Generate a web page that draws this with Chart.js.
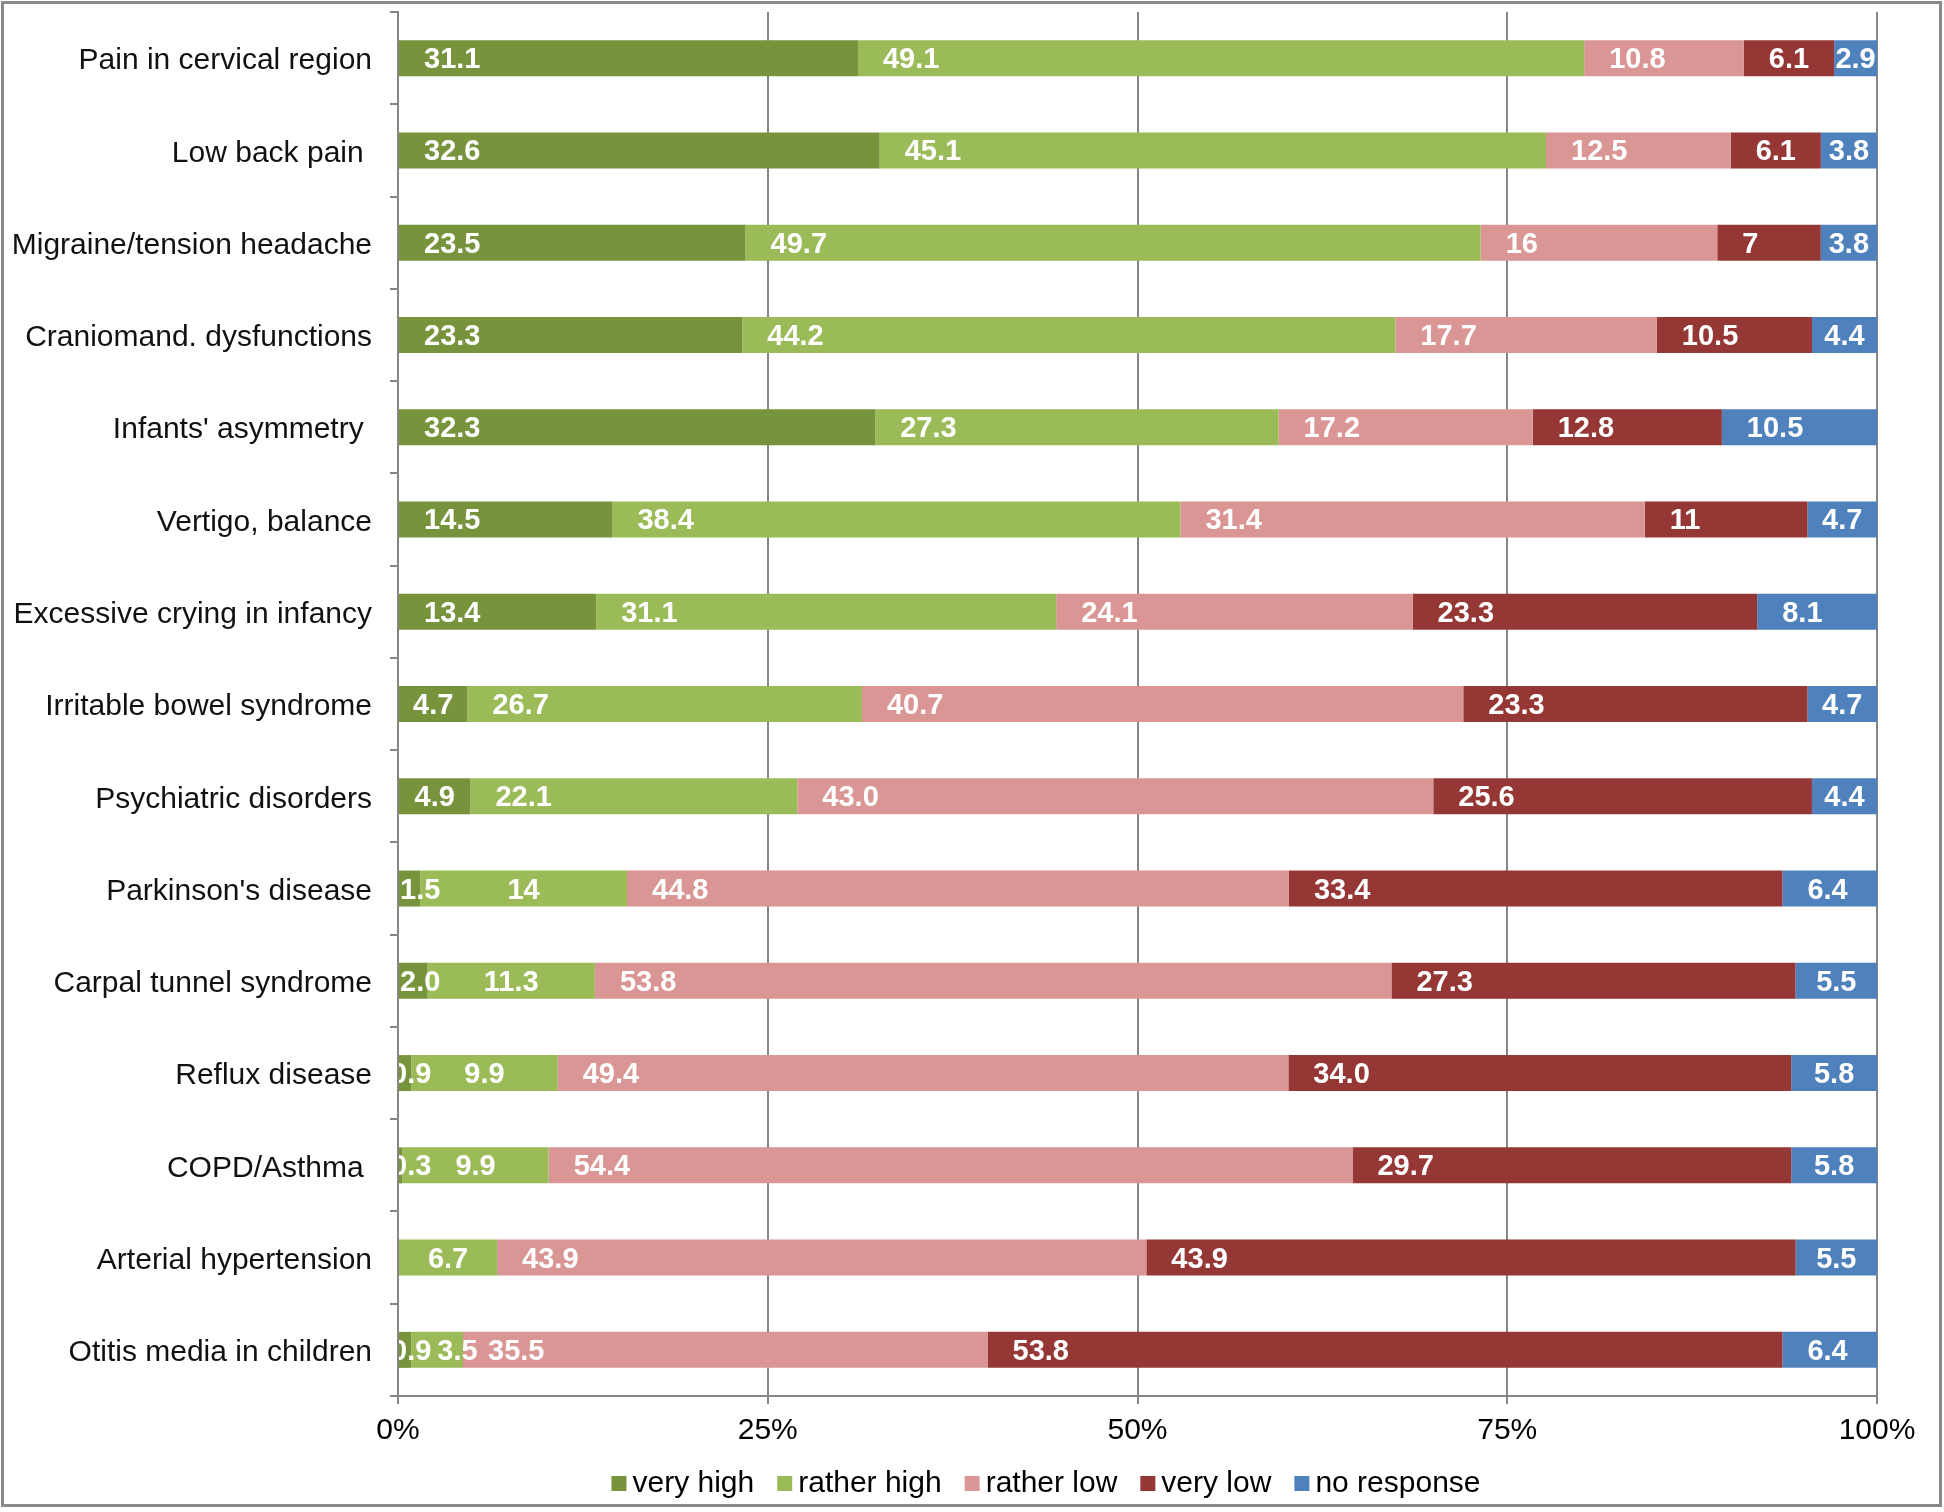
<!DOCTYPE html>
<html><head><meta charset="utf-8">
<script src="https://cdn.jsdelivr.net/npm/chart.js@4/dist/chart.umd.min.js"></script>
<style>html,body{margin:0;padding:0;background:#fff}#wrap{width:1944px;height:1512px;position:relative}</style>
</head><body><div id="wrap"><canvas id="c" width="1944" height="1512"></canvas></div>
<script>
const categories = ['Pain in cervical region','Low back pain ','Migraine/tension headache','Craniomand. dysfunctions',"Infants' asymmetry ",'Vertigo, balance','Excessive crying in infancy','Irritable bowel syndrome','Psychiatric disorders',"Parkinson's disease",'Carpal tunnel syndrome','Reflux disease','COPD/Asthma ','Arterial hypertension','Otitis media in children'];
const seriesNames = ['very high','rather high','rather low','very low','no response'];
const veryHigh   = ['31.1','32.6','23.5','23.3','32.3','14.5','13.4','4.7','4.9','1.5','2.0','0.9','0.3',null,'0.9'];
const ratherHigh = ['49.1','45.1','49.7','44.2','27.3','38.4','31.1','26.7','22.1','14','11.3','9.9','9.9','6.7','3.5'];
const ratherLow  = ['10.8','12.5','16','17.7','17.2','31.4','24.1','40.7','43.0','44.8','53.8','49.4','54.4','43.9','35.5'];
const veryLow    = ['6.1','6.1','7','10.5','12.8','11','23.3','23.3','25.6','33.4','27.3','34.0','29.7','43.9','53.8'];
const noResponse = ['2.9','3.8','3.8','4.4','10.5','4.7','8.1','4.7','4.4','6.4','5.5','5.8','5.8','5.5','6.4'];
const xTickLabels = ['0%','25%','50%','75%','100%'];

const seriesValues = [veryHigh, ratherHigh, ratherLow, veryLow, noResponse];
const colors = ['#77933C','#9BBB59','#D99694','#953735','#4F81BD'];
const FONT = '"Liberation Sans", Arial, Helvetica, sans-serif';

// 100% stacking: normalise each row to its total
const rowTotals = categories.map((_, i) => seriesValues.reduce((s, arr) => s + (arr[i] == null ? 0 : Number(arr[i])), 0));
const datasets = seriesValues.map((arr, d) => ({
  label: seriesNames[d],
  data: arr.map((v, i) => v == null ? null : Number(v) / rowTotals[i] * 100),
  labelsText: arr,
  backgroundColor: colors[d],
  borderWidth: 0,
  barPercentage: 0.39,
  categoryPercentage: 1.0,
  centerBelow: d === 1 ? 15 : 0
}));

const labelPlugin = {
  id: 'segLabels',
  afterDatasetsDraw(chart) {
    const ctx = chart.ctx, a = chart.chartArea;
    ctx.save();
    ctx.beginPath(); ctx.rect(a.left + 1, a.top, a.right - a.left, a.bottom - a.top); ctx.clip();
    ctx.font = 'bold 29px ' + FONT;
    ctx.fillStyle = '#ffffff'; ctx.textBaseline = 'middle'; ctx.textAlign = 'left';
    for (let i = 0; i < categories.length; i++) {
      let prevRight = -Infinity;
      chart.data.datasets.forEach((ds, d) => {
        const txt = ds.labelsText[i];
        if (txt == null) return;
        const el = chart.getDatasetMeta(d).data[i];
        const x0 = Math.min(el.base, el.x), x1 = Math.max(el.base, el.x);
        const w = x1 - x0, tw = ctx.measureText(txt).width;
        let pad = (ds.centerBelow && Number(txt) < ds.centerBelow) ? (w - tw) / 2 : Math.min(25, (w - tw) / 2);
        if (pad < -8) pad = -8;
        let lx = x0 + pad;
        if (w >= 16 && lx < a.left + 2) lx = a.left + 2;
        if (lx < prevRight + 6) lx = prevRight + 6;
        ctx.fillText(txt, lx, el.y + 2);
        prevRight = lx + tw;
      });
    }
    ctx.restore();
  }
};

const legendPlugin = {
  id: 'customLegend',
  afterDraw(chart) {
    const ctx = chart.ctx;
    ctx.save();
    ctx.font = '30px ' + FONT;
    ctx.textBaseline = 'middle'; ctx.textAlign = 'left';
    const box = 15, gap = 6, itemGap = 23, cy = 1484;
    const widths = chart.data.datasets.map(ds => box + gap + ctx.measureText(ds.label).width);
    const total = widths.reduce((s, w) => s + w, 0) + itemGap * (widths.length - 1);
    let x = 1046 - total / 2;
    chart.data.datasets.forEach((ds, d) => {
      ctx.fillStyle = ds.backgroundColor;
      ctx.fillRect(x, cy - 8, box, box);
      ctx.fillStyle = '#000';
      ctx.fillText(ds.label, x + box + gap, cy);
      x += widths[d] + itemGap;
    });
    ctx.restore();
  }
};

const framePlugin = {
  id: 'frame',
  afterDraw(chart) {
    const ctx = chart.ctx;
    ctx.save();
    ctx.strokeStyle = '#8a8a8a'; ctx.lineWidth = 3;
    ctx.strokeRect(2.5, 2.5, 1938, 1503);
    ctx.restore();
  }
};

new Chart(document.getElementById('c'), {
  type: 'bar',
  data: { labels: categories, datasets },
  options: {
    indexAxis: 'y',
    responsive: false,
    animation: false,
    layout: { padding: { top: 12, right: 67, left: 0, bottom: 0 } },
    plugins: { legend: { display: false }, tooltip: { enabled: false } },
    scales: {
      x: {
        stacked: true, min: 0, max: 100,
        ticks: { stepSize: 25, callback: (v, i) => xTickLabels[i], font: { family: FONT, size: 30 }, color: '#000', padding: 9, maxRotation: 0 },
        grid: { color: '#868686', lineWidth: 2, tickLength: 8, drawTicks: true },
        border: { color: '#868686', width: 2 },
        afterFit: s => { s.height = 116; s.paddingLeft = 0; s.paddingRight = 0; }
      },
      y: {
        stacked: true,
        ticks: { font: { family: FONT, size: 30 }, color: '#111', padding: 18, autoSkip: false, labelOffset: 3 },
        grid: { offset: true, drawOnChartArea: false, drawTicks: true, tickLength: 8, color: '#868686', lineWidth: 2 },
        border: { color: '#868686', width: 2 },
        afterFit: s => { s.width = 398; s.paddingTop = 0; s.paddingBottom = 0; }
      }
    }
  },
  plugins: [labelPlugin, legendPlugin, framePlugin]
});
</script></body></html>
